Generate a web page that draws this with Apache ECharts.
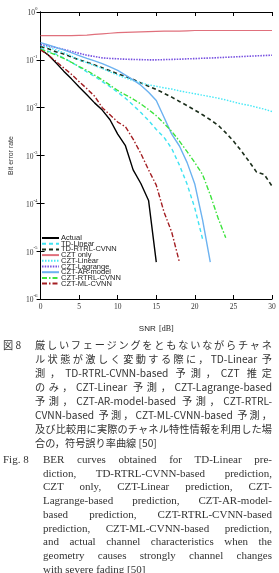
<!DOCTYPE html>
<html>
<head>
<meta charset="utf-8">
<script src="https://cdn.jsdelivr.net/npm/echarts@6/dist/echarts.min.js"></script>
<style>
  html, body { margin: 0; padding: 0; background: #fff; }
  #page { position: relative; width: 279px; height: 573px; overflow: hidden; }
  #chart { position: absolute; left: 0; top: 0; width: 279px; height: 340px; }
  .cap { position: absolute; color: #333; white-space: nowrap; }
  .jp { font-family: "Noto Sans CJK JP", sans-serif; font-size: 10.2px; line-height: 14.07px; }
  .en { font-family: "Liberation Serif", "DejaVu Serif", serif; font-size: 11px; line-height: 13.7px; }
  .body div { text-align: justify; text-align-last: justify; }
  .body div.last { text-align-last: left; }
</style>
</head>
<body>
<div id="page">
  <div id="chart"></div>

  <div class="cap jp" style="left:3px; top:338px;">図 8</div>
  <div class="cap jp body" style="left:35px; top:338px; width:237px;">
    <div>厳しいフェージングをともないながらチャネ</div>
    <div>ル状態が激しく変動する際に，TD-Linear 予</div>
    <div>測，TD-RTRL-CVNN-based 予測，CZT 推定</div>
    <div>のみ，CZT-Linear 予測，CZT-Lagrange-based</div>
    <div>予測，CZT-AR-model-based 予測，CZT-RTRL-</div>
    <div>CVNN-based 予測，CZT-ML-CVNN-based 予測，</div>
    <div>及び比較用に実際のチャネル特性情報を利用した場</div>
    <div class="last">合の，符号誤り率曲線 [50]</div>
  </div>

  <div class="cap en" style="left:3px; top:453px;">Fig. 8</div>
  <div class="cap en body" style="left:43px; top:453px; width:229px;">
    <div>BER curves obtained for TD-Linear pre-</div>
    <div>diction, TD-RTRL-CVNN-based prediction,</div>
    <div>CZT only, CZT-Linear prediction, CZT-</div>
    <div>Lagrange-based prediction, CZT-AR-model-</div>
    <div>based prediction, CZT-RTRL-CVNN-based</div>
    <div>prediction, CZT-ML-CVNN-based prediction,</div>
    <div>and actual channel characteristics when the</div>
    <div>geometry causes strongly channel changes</div>
    <div class="last">with severe fading [50]</div>
  </div>
</div>

<script>
// SNR [dB] 0..30
var snr = [0,1,2,3,4,5,6,7,8,9,10,11,12,13,14,15,16,17,18,19,20,21,22,23,24,25,26,27,28,29,30];

// 读图估计的 BER 值（每条曲线从 0 dB 开始，到最后一个点为止）
var actual = [0.166,0.126,0.087,0.058,0.040,0.027,0.0186,0.0126,0.0089,0.0056,0.0028,0.0016,0.0005,0.00026,0.000115,0.0000059];
var tdLinear = [0.174,0.151,0.132,0.110,0.089,0.071,0.056,0.045,0.035,0.0275,0.021,0.0158,0.0112,0.0079,0.0054,0.0035,0.0024,0.0014,0.00063,0.00025,0.000079,0.000018];
var tdRtrl = [0.19,0.17,0.148,0.132,0.115,0.10,0.089,0.078,0.068,0.059,0.051,0.045,0.039,0.033,0.028,0.024,0.020,0.0166,0.0135,0.011,0.0089,0.0071,0.0056,0.0043,0.003,0.002,0.00126,0.00076,0.00045,0.0004,0.00023];
var cztOnly = [0.32,0.32,0.32,0.32,0.32,0.325,0.33,0.34,0.35,0.36,0.37,0.375,0.38,0.385,0.39,0.395,0.40,0.40,0.40,0.405,0.41,0.41,0.41,0.41,0.41,0.41,0.41,0.41,0.41,0.41,0.41];
var cztLinear = [0.2,0.182,0.162,0.141,0.12,0.1,0.087,0.076,0.066,0.056,0.048,0.042,0.037,0.033,0.030,0.028,0.026,0.0245,0.0224,0.0209,0.0195,0.0182,0.017,0.0158,0.0145,0.0132,0.012,0.0112,0.0102,0.0093,0.0083];
var cztLagrange = [0.21,0.195,0.18,0.165,0.15,0.137,0.125,0.117,0.11,0.107,0.105,0.103,0.102,0.101,0.1,0.1,0.101,0.102,0.103,0.105,0.106,0.108,0.109,0.111,0.113,0.115,0.117,0.119,0.121,0.123,0.125];
var cztAr = [0.229,0.204,0.182,0.162,0.141,0.123,0.107,0.095,0.083,0.071,0.060,0.048,0.038,0.0295,0.021,0.0141,0.0063,0.0028,0.00158,0.00071,0.00025,0.000045,0.0000059];
var cztRtrl = [0.166,0.145,0.126,0.107,0.089,0.072,0.060,0.048,0.038,0.0295,0.0229,0.0186,0.0151,0.012,0.0091,0.0068,0.0047,0.0032,0.002,0.0012,0.00071,0.0004,0.00015,0.00005,0.000019];
var cztMl = [0.162,0.126,0.093,0.068,0.050,0.035,0.025,0.0174,0.0100,0.0071,0.0050,0.0040,0.0022,0.0011,0.0005,0.00024,0.000066,0.000025,0.0000059];

function pts(arr) {
  return arr.map(function (v, i) { return [snr[i], v]; });
}

function line(name, arr, color, width, type) {
  return {
    name: name,
    type: 'line',
    data: pts(arr),
    symbol: 'none',
    silent: true,
    animation: false,
    lineStyle: { color: color, width: width, type: type },
    itemStyle: { color: color }
  };
}

var dashDot = [5, 2, 1.5, 2];

var chart = echarts.init(document.getElementById('chart'));
chart.setOption({
  backgroundColor: '#fff',
  animation: false,
  grid: { left: 30, right: 7, top: 12, bottom: 29 },
  legend: {
    orient: 'vertical',
    left: 41,
    top: 234,
    itemWidth: 17,
    itemHeight: 4,
    itemGap: -2.3,
    padding: 0,
    itemStyle: { opacity: 0 },
    textStyle: { fontFamily: 'Liberation Sans, Arial, sans-serif', fontSize: 7.5, color: '#222', padding: [0, 0, 0, -3], lineHeight: 7.5 },
    data: ['Actual','TD-Linear','TD-RTRL-CVNN','CZT only','CZT-Linear','CZT-Lagrange','CZT-AR-model','CZT-RTRL-CVNN','CZT-ML-CVNN']
  },
  xAxis: [{
    type: 'value', min: 0, max: 30, interval: 5,
    name: '{s|SNR} {d|[dB]}',
    nameLocation: 'middle', nameGap: 24,
    nameTextStyle: { rich: {
      s: { fontFamily: 'Liberation Sans, Arial, sans-serif', fontSize: 8, color: '#222' },
      d: { fontFamily: 'Liberation Serif, serif', fontSize: 8, color: '#222' }
    } },
    axisLine: { lineStyle: { color: '#000', width: 1 } },
    axisTick: { inside: true, length: 4, lineStyle: { color: '#000' } },
    axisLabel: { fontFamily: 'Liberation Serif, serif', fontSize: 7.5, color: '#333', margin: 4 },
    splitLine: { show: false }
  }, {
    type: 'value', min: 0, max: 30, interval: 5, position: 'top',
    axisLine: { lineStyle: { color: '#000', width: 1 } },
    axisTick: { inside: true, length: 4, lineStyle: { color: '#000' } },
    axisLabel: { show: false },
    splitLine: { show: false }
  }],
  yAxis: [{
    type: 'log', logBase: 10, min: 1e-6, max: 1,
    name: 'Bit error rate',
    nameLocation: 'middle', nameGap: 17,
    nameTextStyle: { fontFamily: 'Liberation Sans, Arial, sans-serif', fontSize: 7, color: '#333' },
    axisLine: { lineStyle: { color: '#000', width: 1 } },
    axisTick: { inside: true, length: 4, lineStyle: { color: '#000' } },
    minorTick: { show: false },
    axisLabel: {
      margin: 3,
      formatter: function (v) {
        var e = Math.round(Math.log10(v));
        return '{b|10}{e|' + (e === 0 ? '0' : e) + '}';
      },
      rich: {
        b: { fontFamily: 'Liberation Serif, serif', fontSize: 7.5, color: '#333', verticalAlign: 'bottom', lineHeight: 11 },
        e: { fontFamily: 'Liberation Serif, serif', fontSize: 5, color: '#333', verticalAlign: 'top', lineHeight: 11 }
      }
    },
    splitLine: { show: false }
  }, {
    type: 'log', logBase: 10, min: 1e-6, max: 1, position: 'right',
    axisLine: { lineStyle: { color: '#000', width: 1 } },
    axisTick: { inside: true, length: 4, lineStyle: { color: '#000' } },
    axisLabel: { show: false },
    splitLine: { show: false }
  }],
  series: [
    line('Actual', actual, '#000000', 1.4, 'solid'),
    line('TD-Linear', tdLinear, '#3fe3f2', 1.4, [4, 3]),
    line('TD-RTRL-CVNN', tdRtrl, '#1b2e1b', 1.6, [4, 3]),
    line('CZT only', cztOnly, '#e0707c', 1.2, 'solid'),
    line('CZT-Linear', cztLinear, '#46e8f6', 1.4, [1.5, 1.5]),
    line('CZT-Lagrange', cztLagrange, '#7750e0', 1.6, [1.5, 1.2]),
    line('CZT-AR-model', cztAr, '#6cb2f0', 1.4, 'solid'),
    line('CZT-RTRL-CVNN', cztRtrl, '#3ee33e', 1.4, dashDot),
    line('CZT-ML-CVNN', cztMl, '#a31e22', 1.4, dashDot)
  ]
});
</script>
</body>
</html>
